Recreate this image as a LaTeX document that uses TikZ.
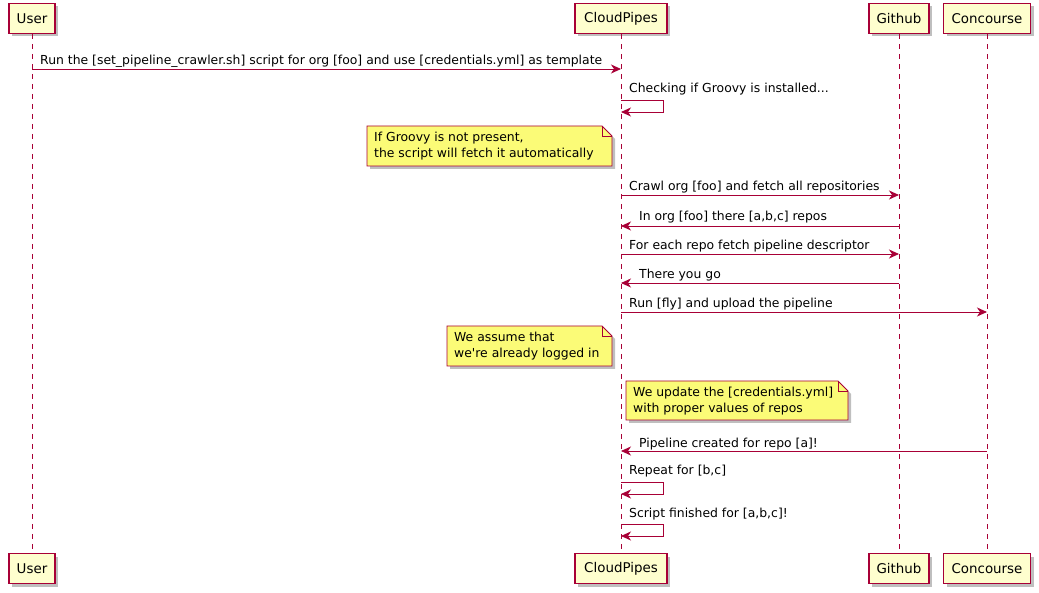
\documentclass[tikz,border=0pt]{standalone}
\usepackage{fontspec}
\setmainfont{DejaVu Sans}[Ligatures=TeXOff]
\usetikzlibrary{arrows.meta,shadows}
\definecolor{pborder}{HTML}{A80036}
\definecolor{pfill}{HTML}{FEFECE}
\definecolor{nfill}{HTML}{FBFB77}
\begin{document}
\begin{tikzpicture}[x=1pt,y=-1pt,
  font=\fontsize{12.4}{15}\selectfont,
  shad/.style={drop shadow={shadow xshift=3pt,shadow yshift=-3pt,fill=black,opacity=0.25}},
  part/.style={draw=pborder,fill=pfill,line width=1.1pt,minimum height=30pt,inner sep=0pt,shad,font=\fontsize{13.4}{15}\selectfont},
  life/.style={draw=pborder,dash pattern=on 5pt off 5pt,line width=0.8pt},
  msg/.style={draw=pborder,line width=0.9pt,-{Stealth[length=10pt,width=9pt,inset=3pt]}},
  lbl/.style={anchor=base west,inner sep=0pt},
  notebox/.style={draw=pborder,fill=nfill,line width=0.9pt,shad},
  notetxt/.style={anchor=west,align=left,inner sep=0pt,font=\fontsize{12.4}{16}\selectfont}
]
\useasboundingbox (0,0) rectangle (1039,593);
% participants
\node[part,minimum width=46pt] (U) at (32,18.5) {User};
\node[part,minimum width=92pt] (C) at (621,18.5) {CloudPipes};
\node[part,minimum width=60pt] (G) at (899,18.5) {Github};
\node[part,minimum width=87pt] (K) at (987,18.5) {Concourse};
\node[part,minimum width=46pt] (Ub) at (32,568.5) {User};
\node[part,minimum width=92pt] (Cb) at (621,568.5) {CloudPipes};
\node[part,minimum width=60pt] (Gb) at (899,568.5) {Github};
\node[part,minimum width=87pt] (Kb) at (987,568.5) {Concourse};
% lifelines
\draw[life] (U.south) -- (Ub.north);
\draw[life] (C.south) -- (Cb.north);
\draw[life] (G.south) -- (Gb.north);
\draw[life] (K.south) -- (Kb.north);
% 1
\draw[msg] (U |- 0,69) -- (C |- 0,69);
\node[lbl] (l1) at (40,65) {Run the [set\_pipeline\_crawler.sh] script for org [foo] and use [credentials.yml] as template};
% 2 self
\draw[msg] (C |- 0,100) -- ++(42,0) -- ++(0,12) -- (C |- 0,112);
\node[lbl] (l2) at (629,93) {Checking if Groovy is installed...};
% note 1
\path[notebox] (367,126) -- (602,126) -- (612,136) -- (612,166) -- (367,166) -- cycle;
\draw[pborder,line width=0.9pt] (602,126) -- (602,136) -- (612,136);
\node[notetxt] (n1) at (374,146) {If Groovy is not present,\\the script will fetch it automatically};
% 3
\draw[msg] (C |- 0,195) -- (G |- 0,195);
\node[lbl] (l3) at (629,191) {Crawl org [foo] and fetch all repositories};
% 4
\draw[msg] (G |- 0,226) -- (C |- 0,226);
\node[lbl] (l4) at (639,221) {In org [foo] there [a,b,c] repos};
% 5
\draw[msg] (C |- 0,254) -- (G |- 0,254);
\node[lbl] (l5) at (629,250) {For each repo fetch pipeline descriptor};
% 6
\draw[msg] (G |- 0,283) -- (C |- 0,283);
\node[lbl] (l6) at (639,279) {There you go};
% 7
\draw[msg] (C |- 0,312) -- (K |- 0,312);
\node[lbl] (l7) at (629,308) {Run [fly] and upload the pipeline};
% note 2
\path[notebox] (447,326) -- (602,326) -- (612,336) -- (612,366) -- (447,366) -- cycle;
\draw[pborder,line width=0.9pt] (602,326) -- (602,336) -- (612,336);
\node[notetxt] (n2) at (454,346) {We assume that\\we're already logged in};
% note 3
\path[notebox] (626,381) -- (838,381) -- (848,391) -- (848,420) -- (626,420) -- cycle;
\draw[pborder,line width=0.9pt] (838,381) -- (838,391) -- (848,391);
\node[notetxt] (n3) at (633,401) {We update the [credentials.yml]\\with proper values of repos};
% 8
\draw[msg] (K |- 0,451) -- (C |- 0,451);
\node[lbl] (l8) at (639,447) {Pipeline created for repo [a]!};
% 9 self
\draw[msg] (C |- 0,482) -- ++(42,0) -- ++(0,12) -- (C |- 0,494);
\node[lbl] (l9) at (629,474) {Repeat for [b,c]};
% 10 self
\draw[msg] (C |- 0,524) -- ++(42,0) -- ++(0,12) -- (C |- 0,536);
\node[lbl] (l10) at (629,517) {Script finished for [a,b,c]!};
\end{tikzpicture}
\end{document}
